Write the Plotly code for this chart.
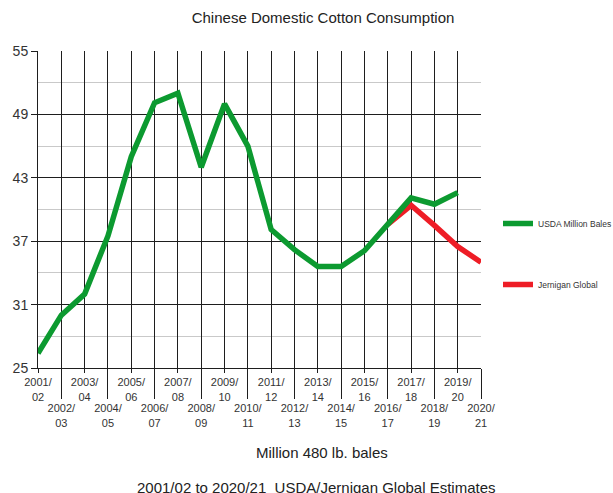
import plotly.graph_objects as go

# Marketing years (2001/02 .. 2020/21)
seasons = ["2001/02", "2002/03", "2003/04", "2004/05", "2005/06", "2006/07",
           "2007/08", "2008/09", "2009/10", "2010/11", "2011/12", "2012/13",
           "2013/14", "2014/15", "2015/16", "2016/17", "2017/18", "2018/19",
           "2019/20", "2020/21"]

# USDA estimates, million 480 lb. bales (2001/02 .. 2019/20)
usda = [26.4, 30.0, 32.0, 37.5, 45.0, 50.1, 51.0, 44.0, 50.0, 46.0,
        38.1, 36.2, 34.6, 34.6, 36.1, 38.6, 41.1, 40.5, 41.6]

# Jernigan Global estimates (2016/17 .. 2020/21)
jernigan_start = "2016/17"
jernigan = [38.6, 40.4, 38.5, 36.5, 35.0]

y_ticks = [25, 31, 37, 43, 49, 55]

idx = list(range(len(seasons)))
labels = [s.replace("/", "/<br>") for s in seasons]
j0 = seasons.index(jernigan_start)

GREEN = "#0c9a30"
RED = "#ee1d26"
GRID = "#1e1e1e"
TEXT = "#333333"
FONT = "Liberation Sans, Arial, sans-serif"

# plot-area edges in pixels, used to place the free text
L, R, T, B = 38, 481, 51, 368


def px_x(x):
    return (x - L) / (R - L)


def px_y(y):
    return (B - y) / (B - T)


fig = go.Figure()

fig.add_trace(go.Scatter(
    x=idx[j0:j0 + len(jernigan)], y=jernigan, mode="lines",
    name="Jernigan Global", line=dict(color=RED, width=5.5),
    legendgroup="j", legendrank=2,
))
fig.add_trace(go.Scatter(
    x=idx[:len(usda)], y=usda, mode="lines",
    name="USDA Million Bales", line=dict(color=GREEN, width=5.5),
    legendgroup="u", legendrank=1,
))

# Second x axis carries the lower row of season labels with long ticks
fig.add_trace(go.Scatter(x=[idx[1]], y=[None], xaxis="x2", showlegend=False,
                         hoverinfo="skip"))

even = idx[0::2]
odd = idx[1::2]

fig.update_layout(
    width=613, height=493,
    margin=dict(l=L, r=613 - R, t=T, b=493 - B, autoexpand=False),
    paper_bgcolor="white", plot_bgcolor="white",
    font=dict(family=FONT, color=TEXT),
    title=dict(text="Chinese Domestic Cotton Consumption",
               x=323 / 613, xanchor="center", y=1 - 18 / 493, yanchor="middle",
               yref="container", font=dict(size=15, color="#222222")),
    xaxis=dict(
        range=[idx[0], idx[-1]], tickmode="array",
        tickvals=even, ticktext=[labels[i] for i in even],
        ticks="outside", ticklen=4, tickcolor=GRID, tickwidth=1,
        showgrid=True, gridcolor=GRID, gridwidth=1,
        showline=True, linecolor=GRID, linewidth=1,
        tickfont=dict(size=11, color=TEXT), zeroline=False,
    ),
    xaxis2=dict(
        overlaying="x", anchor="y", side="bottom",
        range=[idx[0], idx[-1]], tickmode="array",
        tickvals=odd, ticktext=[labels[i] for i in odd],
        ticks="outside", ticklen=30, tickcolor=GRID, tickwidth=1,
        showgrid=True, gridcolor=GRID, gridwidth=1,
        tickfont=dict(size=11, color=TEXT), zeroline=False,
    ),
    yaxis=dict(
        range=[y_ticks[0], y_ticks[-1]], tickmode="array", tickvals=y_ticks,
        ticks="outside", ticklen=6, tickcolor=GRID,
        showgrid=True, gridcolor=GRID, gridwidth=1,
        showline=True, linecolor=GRID, linewidth=1,
        minor=dict(dtick=3, tick0=25, showgrid=True, gridcolor="#c9c9c9",
                   gridwidth=1, ticks=""),
        tickfont=dict(size=14, color=TEXT), zeroline=False,
    ),
    legend=dict(
        x=px_x(498), xanchor="left", y=px_y(209), yanchor="top",
        traceorder="grouped", tracegroupgap=42, itemwidth=30,
        font=dict(size=8.5, color=TEXT), bgcolor="rgba(0,0,0,0)",
    ),
    showlegend=True,
    annotations=[
        dict(text="Million 480 lb. bales", xref="paper", yref="paper",
             x=px_x(321.5), y=px_y(452.7), xanchor="center",
             yanchor="middle", showarrow=False,
             font=dict(size=15, color="#222222")),
        dict(text="2001/02 to 2020/21  USDA/Jernigan Global Estimates",
             xref="paper", yref="paper",
             x=px_x(316.5), y=px_y(487.5), xanchor="center",
             yanchor="middle", showarrow=False,
             font=dict(size=15, color="#222222")),
    ],
)

fig.write_html("out.html")
